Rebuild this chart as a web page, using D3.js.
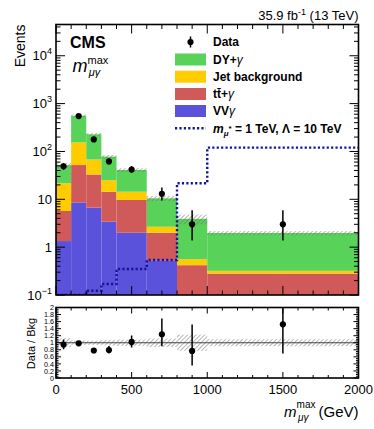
<!DOCTYPE html>
<html><head><meta charset="utf-8">
<script src="https://cdn.jsdelivr.net/npm/d3@7"></script>
<style>
body{margin:0;background:#fff}
svg{display:block;font-family:"Liberation Sans",Arial,Helvetica,sans-serif}
</style>
</head><body>
<svg id="c" width="374" height="429"></svg>
<script>
// ---------------- data ----------------
const binEdges   = [0, 100, 200, 300, 400, 600, 800, 1000, 2000];
const vvGamma    = [1.34, 8.6, 6.7, 3.4, 2.0, 0.53, 0.05, 0.02];
const ttGamma    = [4.36, 43.4, 26.3, 11.0, 7.7, 1.47, 0.37, 0.26];
const jetBkg     = [15.9, 103, 35, 10.6, 4.7, 0.67, 0.14, 0.04];
const dyGamma    = [30, 402, 160, 53, 26.6, 7.8, 3.34, 1.65];
const bkgRelUnc  = [0.13, 0.06, 0.06, 0.08, 0.09, 0.12, 0.23, 0.10];
const dataCounts = [49, 548, 178, 62, 42, 13, 3, 3];
const dataErrLow = [7.0, 23.4, 13.3, 7.9, 6.5, 3.6, 1.63, 1.63];
const dataErrHigh= [7.5, 24.4, 14.3, 8.9, 7.5, 4.7, 2.92, 2.92];
const signalExc  = [0.09, 0.09, 0.123, 0.17, 0.35, 0.54, 21.6, 120];
const yTicksMain = [0.1, 1, 10, 100, 1000, 10000];
const yTickLabels= [["10","−1"],["1",null],["10",null],["10","2"],["10","3"],["10","4"]];
const xTicks     = [0, 500, 1000, 1500, 2000];
const ratioTicks = [0, 0.2, 0.4, 0.6, 0.8, 1, 1.2, 1.4, 1.6, 1.8, 2];
const ratioTickLabels = ["0","0.2","0.4","0.6","0.8","1","1.2","1.4","1.6","1.8","2"];

const colors = {dy:"#58d258", jet:"#ffcc00", tt:"#d05a5a", vv:"#5a52da", sig:"#14149a"};

// ---------------- scales ----------------
const X0 = 56, X1 = 358.5;
const MT = 24.5, MB = 295, RT = 307.5, RB = 378;
const x  = d3.scaleLinear().domain([0, 2000]).range([X0, X1]);
const y  = d3.scaleLog().domain([0.1, 45000]).range([MB, MT]).clamp(true);
const yr = d3.scaleLinear().domain([0, 2]).range([RB, RT]).clamp(true);

const svg = d3.select("#c");
const defs = svg.append("defs");
const pat = defs.append("pattern").attr("id","hatch").attr("patternUnits","userSpaceOnUse")
  .attr("width",3).attr("height",3).attr("patternTransform","rotate(45)");
pat.append("line").attr("x1",0).attr("y1",0).attr("x2",0).attr("y2",3)
  .attr("stroke","#6e6e6e").attr("stroke-width",1);
defs.append("clipPath").attr("id","clipMain").append("rect")
  .attr("x",X0).attr("y",MT).attr("width",X1-X0).attr("height",MB-MT);
defs.append("clipPath").attr("id","clipRatio").append("rect")
  .attr("x",X0).attr("y",RT).attr("width",X1-X0).attr("height",RB-RT);

// ---------------- stack ----------------
const rows = binEdges.slice(0,-1).map((e,i)=>({
  lo:e, hi:binEdges[i+1], vv:vvGamma[i], tt:ttGamma[i], jet:jetBkg[i], dy:dyGamma[i]
}));
const stack = d3.stack().keys(["vv","tt","jet","dy"])(rows);
const main = svg.append("g").attr("clip-path","url(#clipMain)");
stack.forEach(layer=>{
  main.append("g").selectAll("rect").data(layer).join("rect")
    .attr("x",d=>x(d.data.lo)).attr("width",d=>x(d.data.hi)-x(d.data.lo))
    .attr("y",d=>y(d[1])).attr("height",d=>Math.max(0,y(Math.max(d[0],0.1))-y(d[1])))
    .attr("fill",colors[layer.key]);
});
const totals = rows.map(r=>r.vv+r.tt+r.jet+r.dy);
// uncertainty band
main.append("g").selectAll("rect").data(rows).join("rect")
  .attr("x",d=>x(d.lo)).attr("width",d=>x(d.hi)-x(d.lo))
  .attr("y",(d,i)=>y(totals[i]*(1+bkgRelUnc[i])))
  .attr("height",(d,i)=>y(totals[i]*(1-bkgRelUnc[i]))-y(totals[i]*(1+bkgRelUnc[i])))
  .attr("fill","url(#hatch)");
// signal
const sigPts = [];
signalExc.forEach((s,i)=>{ sigPts.push([binEdges[i],s]); sigPts.push([binEdges[i+1],s]); });
main.append("path").datum(sigPts)
  .attr("d",d3.line().x(d=>x(d[0])).y(d=>y(d[1])))
  .attr("fill","none").attr("stroke",colors.sig).attr("stroke-width",2.4)
  .attr("stroke-dasharray","2.2,2.2");
// data
const centers = rows.map(r=>(r.lo+r.hi)/2);
const dg = main.append("g");
dg.selectAll("line").data(dataCounts).join("line")
  .attr("x1",(d,i)=>x(centers[i])).attr("x2",(d,i)=>x(centers[i]))
  .attr("y1",(d,i)=>y(d+dataErrHigh[i])).attr("y2",(d,i)=>y(d-dataErrLow[i]))
  .attr("stroke","#000").attr("stroke-width",1.5);
dg.selectAll("circle").data(dataCounts).join("circle")
  .attr("cx",(d,i)=>x(centers[i])).attr("cy",d=>y(d)).attr("r",3.1).attr("fill","#000");

// ---------------- ratio ----------------
const rg = svg.append("g").attr("clip-path","url(#clipRatio)");
rg.append("g").selectAll("rect").data(rows).join("rect")
  .attr("x",d=>x(d.lo)).attr("width",d=>x(d.hi)-x(d.lo))
  .attr("y",(d,i)=>yr(1+bkgRelUnc[i])).attr("height",(d,i)=>yr(1-bkgRelUnc[i])-yr(1+bkgRelUnc[i]))
  .attr("fill","url(#hatch)");
rg.append("line").attr("x1",x(0)).attr("x2",x(2000)).attr("y1",yr(1)).attr("y2",yr(1))
  .attr("stroke","#444").attr("stroke-width",1);
rg.append("g").selectAll("line").data(dataCounts).join("line")
  .attr("x1",(d,i)=>x(centers[i])).attr("x2",(d,i)=>x(centers[i]))
  .attr("y1",(d,i)=>yr((d+dataErrHigh[i])/totals[i])).attr("y2",(d,i)=>yr((d-dataErrLow[i])/totals[i]))
  .attr("stroke","#000").attr("stroke-width",1.5);
rg.append("g").selectAll("circle").data(dataCounts).join("circle")
  .attr("cx",(d,i)=>x(centers[i])).attr("cy",(d,i)=>yr(d/totals[i])).attr("r",3.1).attr("fill","#000");

// ---------------- frames & ticks ----------------
const ax = svg.append("g").attr("stroke","#000").attr("stroke-width",1);
function xt(vals, yPos, len){
  ax.append("g").selectAll("line").data(vals).join("line")
    .attr("x1",d=>x(d)).attr("x2",d=>x(d)).attr("y1",yPos).attr("y2",yPos+len);
}
function yt(scale, vals, len){
  ax.append("g").selectAll("line").data(vals).join("line")
    .attr("y1",d=>scale(d)).attr("y2",d=>scale(d)).attr("x1",X0).attr("x2",X0+len);
  ax.append("g").selectAll("line").data(vals).join("line")
    .attr("y1",d=>scale(d)).attr("y2",d=>scale(d)).attr("x1",X1).attr("x2",X1-len);
}
const xMinor = d3.range(0,2001,100).filter(v=>v%500!==0);
xt(xTicks, MB, -9); xt(xMinor, MB, -4.5);
xt(xTicks, MT, 9);  xt(xMinor, MT, 4.5);
xt(xTicks, RB, -6); xt(xMinor, RB, -3);
xt(xTicks, RT, 6);  xt(xMinor, RT, 3);
const yMinor = [];
[0.1,1,10,100,1000,10000].forEach(b=>{ for(let k=2;k<=9;k++){ if(b*k<=45000) yMinor.push(b*k);} });
yt(y, yTicksMain, 9); yt(y, yMinor, 4.5);
yt(yr, ratioTicks, 5);
yt(yr, d3.range(0.05,2,0.05).filter(v=>Math.abs(v*5-Math.round(v*5))>1e-6), 2.5);
svg.append("rect").attr("x",X0).attr("y",MT).attr("width",X1-X0).attr("height",MB-MT)
  .attr("fill","none").attr("stroke","#000").attr("stroke-width",1.6);
svg.append("rect").attr("x",X0).attr("y",RT).attr("width",X1-X0).attr("height",RB-RT)
  .attr("fill","none").attr("stroke","#000").attr("stroke-width",1.6);

// ---------------- labels ----------------
const T = svg.append("g").attr("fill","#000");
// main y tick labels
yTicksMain.forEach((v,i)=>{
  const [b,e] = yTickLabels[i];
  const t = T.append("text").attr("x", X0-4).attr("y", y(v)+4.5).attr("text-anchor","end")
    .attr("font-size",13);
  t.append("tspan").text(b);
  if(e){ t.append("tspan").attr("dy",-6).attr("font-size",9).text(e); }
});
// ratio y tick labels
ratioTicks.forEach((v,i)=>{
  T.append("text").attr("x",X0-2).attr("y",yr(v)+2.6).attr("text-anchor","end")
    .attr("font-size",7.2).text(ratioTickLabels[i]);
});
// x tick labels
xTicks.forEach(v=>{
  T.append("text").attr("x",x(v)).attr("y",394).attr("text-anchor","middle")
    .attr("font-size",13).text(v);
});
// axis titles
T.append("text").attr("transform",`translate(25,${MT}) rotate(-90)`).attr("text-anchor","end")
  .attr("font-size",14).text("Events");
T.append("text").attr("transform",`translate(35,343.5) rotate(-90)`).attr("text-anchor","middle")
  .attr("font-size",11).text("Data / Bkg");
{
  const t = T.append("text").attr("x",X1).attr("y",417).attr("text-anchor","end").attr("font-size",15);
  t.append("tspan").attr("font-style","italic").text("m");
  t.append("tspan").attr("font-size",10).attr("dy",-9).text("max");
  t.append("tspan").attr("font-size",10).attr("font-style","italic").attr("dx",-17.5).attr("dy",13).text("μγ");
  t.append("tspan").attr("dx",10).attr("dy",-4).text("(GeV)");
}
// top-right
{
  const t = T.append("text").attr("x",X1).attr("y",20).attr("text-anchor","end").attr("font-size",13);
  t.append("tspan").text("35.9 fb");
  t.append("tspan").attr("font-size",9).attr("dy",-5).text("-1");
  t.append("tspan").attr("dy",5).text(" (13 TeV)");
}
// CMS
T.append("text").attr("x",70).attr("y",48).attr("font-size",16).attr("font-weight","bold").text("CMS");
{
  const t = T.append("text").attr("x",72.5).attr("y",72).attr("font-size",18);
  t.append("tspan").attr("font-style","italic").text("m");
  t.append("tspan").attr("font-size",11).attr("dy",-8).text("max");
  t.append("tspan").attr("font-size",11).attr("font-style","italic").attr("dx",-19.5).attr("dy",12).text("μγ");
}
// legend
const LX = 175, LW = 31, LT = 213;
const legendRows = [
  {y:42,   type:"data"},
  {y:59.5, type:"box", c:colors.dy},
  {y:76.7, type:"box", c:colors.jet},
  {y:94,   type:"box", c:colors.tt},
  {y:111,  type:"box", c:colors.vv},
  {y:128.3,type:"line"}
];
legendRows.forEach(r=>{
  if(r.type==="box"){
    T.append("rect").attr("x",LX).attr("y",r.y-6).attr("width",LW).attr("height",12).attr("fill",r.c);
  } else if(r.type==="data"){
    T.append("line").attr("x1",LX+LW/2).attr("x2",LX+LW/2).attr("y1",r.y-5.5).attr("y2",r.y+5.5)
      .attr("stroke","#000").attr("stroke-width",1.5);
    T.append("circle").attr("cx",LX+LW/2).attr("cy",r.y).attr("r",3.1);
  } else {
    T.append("line").attr("x1",LX).attr("x2",LX+LW).attr("y1",r.y).attr("y2",r.y)
      .attr("stroke",colors.sig).attr("stroke-width",2.4).attr("stroke-dasharray","2.2,2.2");
  }
});
function ltext(yc){ return T.append("text").attr("x",LT).attr("y",yc+4.3).attr("font-size",12).attr("font-weight","bold"); }
ltext(42).text("Data");
{ const t = ltext(59.5); t.append("tspan").text("DY+"); t.append("tspan").attr("font-style","italic").attr("font-weight","normal").text("γ"); }
ltext(76.7).text("Jet background");
{ const t = ltext(94); t.append("tspan").text("tt\u0304+"); t.append("tspan").attr("font-style","italic").attr("font-weight","normal").text("γ"); }
{ const t = ltext(111); t.append("tspan").text("VV"); t.append("tspan").attr("font-style","italic").attr("font-weight","normal").text("γ"); }
{
  const t = ltext(128.3);
  t.append("tspan").attr("font-style","italic").text("m");
  t.append("tspan").attr("font-size",8).attr("font-style","italic").attr("dy",3).text("μ");
  t.append("tspan").attr("font-size",8).attr("dy",-5).text("*");
  t.append("tspan").attr("dy",2).text(" = 1 TeV, Λ = 10 TeV");
}
</script>
</body></html>
